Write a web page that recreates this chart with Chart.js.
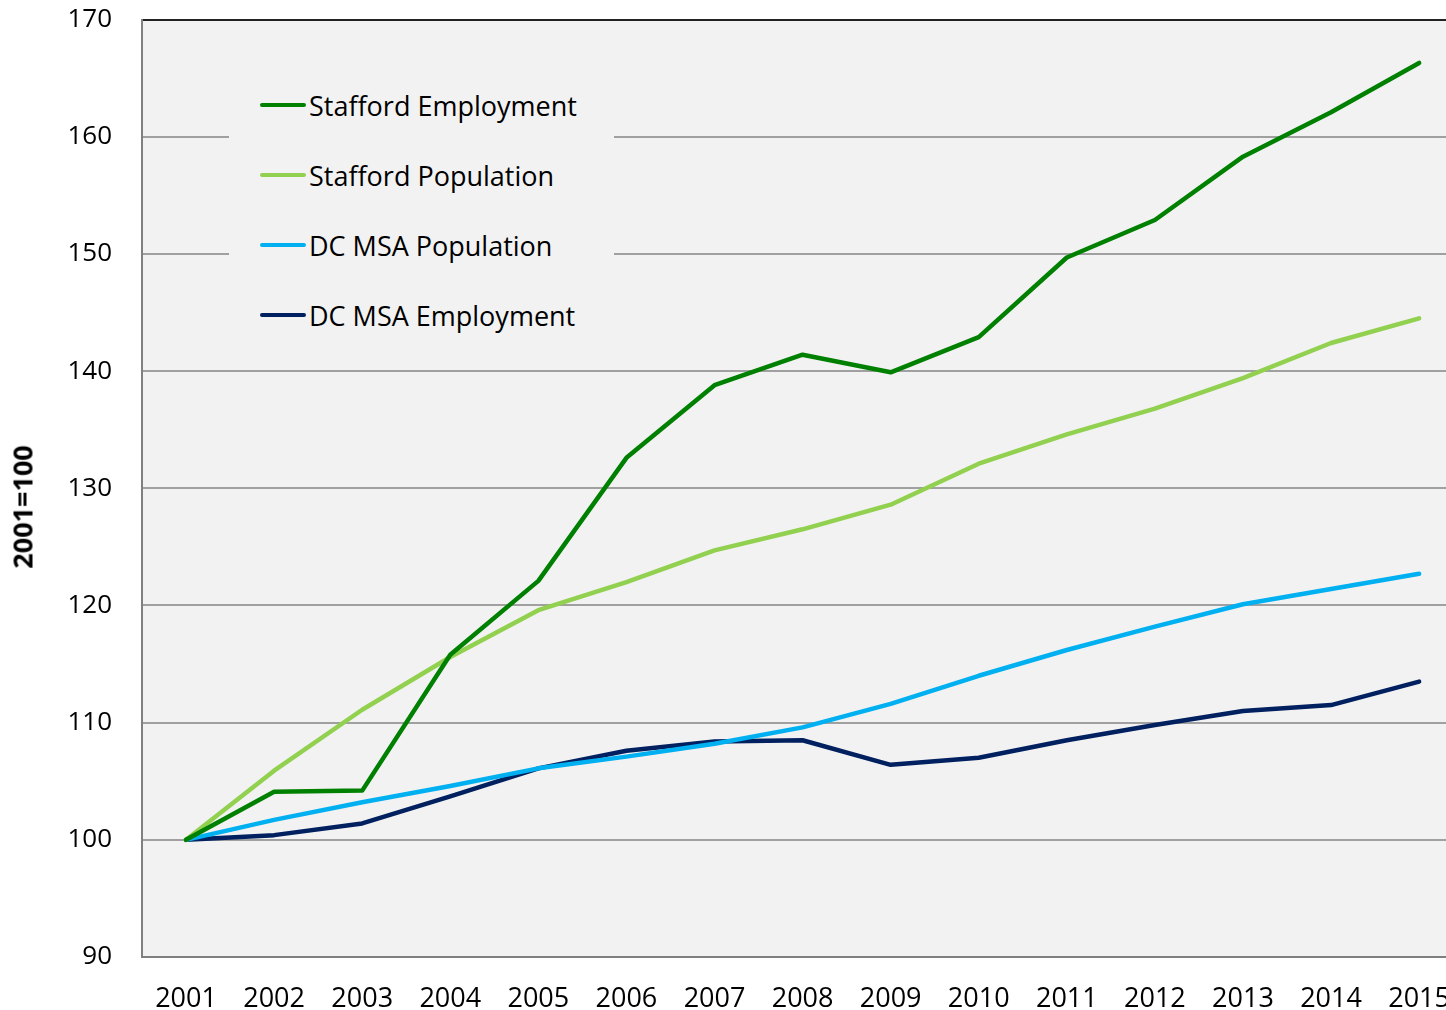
<!DOCTYPE html>
<html>
<head>
<meta charset="utf-8">
<script src="https://cdn.jsdelivr.net/npm/chart.js@4/dist/chart.umd.min.js"></script>
<style>
    html, body { margin: 0; padding: 0; background: #fff; overflow: hidden; }
    #wrap { position: relative; width: 1476px; height: 1010px; overflow: hidden; }
    #growthChart { position: absolute; left: 0; top: -26px; }
    #legend {
        position: absolute; left: 229px; top: 70px; width: 385px; height: 280px;
        background: #f2f2f2; font-family: "Open Sans", sans-serif; font-size: 27px; color: #000;
    }
    .item { position: absolute; left: 31px; height: 30px; display: flex; align-items: center; }
    .swatch { width: 46px; height: 4px; border-radius: 2px; margin-right: 3px; }
    #ytitle {
        position: absolute; left: 22px; top: 507px; transform: translate(-50%, -50%) rotate(-90deg);
        font-family: "Open Sans", sans-serif; font-size: 27px; font-weight: bold; white-space: nowrap; color: #000;
    }
</style>
</head>
<body>
<div id="wrap">
    <canvas id="growthChart" width="1476" height="1036"></canvas>
    <div id="legend"></div>
    <div id="ytitle">2001=100</div>
</div>
<script>
const years = ['2001', '2002', '2003', '2004', '2005', '2006', '2007', '2008', '2009', '2010', '2011', '2012', '2013', '2014', '2015'];
const staffordEmployment = [100, 104.1, 104.2, 115.8, 122.1, 132.6, 138.8, 141.4, 139.9, 142.9, 149.7, 152.9, 158.3, 162.1, 166.3];
const staffordPopulation = [100, 105.9, 111.1, 115.6, 119.6, 122.0, 124.7, 126.5, 128.6, 132.1, 134.6, 136.8, 139.4, 142.4, 144.5];
const dcPopulation = [100, 101.7, 103.2, 104.6, 106.1, 107.1, 108.2, 109.6, 111.6, 114.0, 116.2, 118.2, 120.1, 121.4, 122.7];
const dcEmployment = [100, 100.4, 101.4, 103.7, 106.1, 107.6, 108.4, 108.5, 106.4, 107.0, 108.5, 109.8, 111.0, 111.5, 113.5];

const seriesNames = ['Stafford Employment', 'Stafford Population', 'DC MSA Population', 'DC MSA Employment'];
const seriesColors = ['#008000', '#92d050', '#00b0f0', '#002060'];
const seriesValues = [staffordEmployment, staffordPopulation, dcPopulation, dcEmployment];

const font = "'Open Sans', sans-serif";

const plotBackground = {
    id: 'plotBackground',
    beforeDraw(chart) {
        const { ctx, chartArea } = chart;
        ctx.save();
        ctx.fillStyle = '#f2f2f2';
        ctx.fillRect(chartArea.left, chartArea.top, chartArea.right - chartArea.left, chartArea.bottom - chartArea.top);
        ctx.restore();
    }
};

const datasets = seriesNames.map((name, i) => ({
    label: name,
    data: seriesValues[i],
    borderColor: seriesColors[i],
    backgroundColor: seriesColors[i],
    borderWidth: 4.5,
    pointRadius: 0,
    tension: 0,
    borderCapStyle: 'round',
    borderJoinStyle: 'round'
}));

new Chart(document.getElementById('growthChart'), {
    type: 'line',
    data: { labels: years, datasets },
    options: {
        responsive: false,
        animation: false,
        layout: { padding: 0 },
        plugins: { legend: { display: false }, tooltip: { enabled: false } },
        scales: {
            x: {
                offset: true,
                grid: { display: false, drawTicks: false },
                border: { color: '#808080', width: 2 },
                ticks: { color: '#000', font: { family: font, size: 27 }, padding: 26, maxRotation: 0 },
                afterFit: (scale) => { scale.height = 53; }
            },
            y: {
                min: 90,
                max: 170,
                ticks: { stepSize: 10, color: '#000', font: { family: font, size: 26 }, padding: 30 },
                grid: {
                    drawTicks: false,
                    color: (c) => c.tick && c.tick.value === 170 ? '#222222' : '#a0a0a0',
                    lineWidth: 2
                },
                border: { color: '#808080', width: 2 },
                afterFit: (scale) => { scale.width = 142; }
            }
        }
    },
    plugins: [plotBackground]
});

const legendEl = document.getElementById('legend');
seriesNames.forEach((name, i) => {
    const item = document.createElement('div');
    item.className = 'item';
    item.style.top = (20 + i * 70) + 'px';
    item.innerHTML = `<span class="swatch" style="background:${seriesColors[i]}"></span><span>${name}</span>`;
    legendEl.appendChild(item);
});
</script>
</body>
</html>
